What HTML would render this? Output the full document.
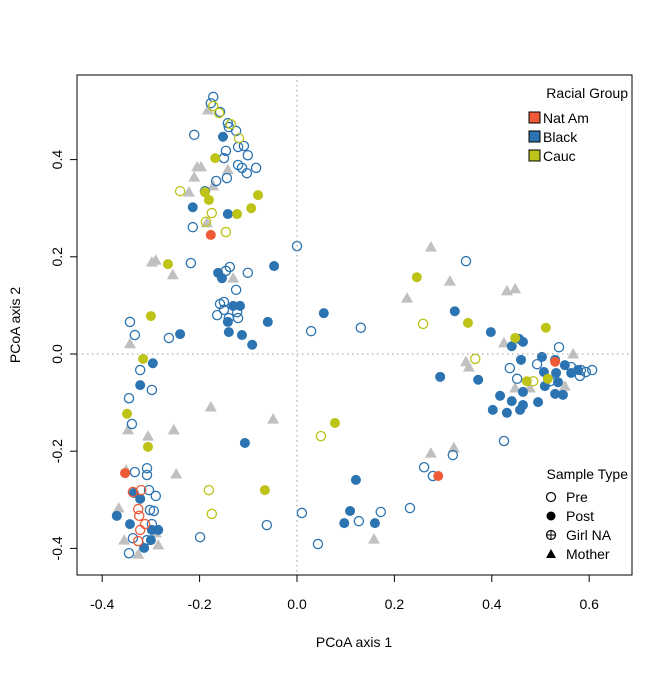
<!DOCTYPE html>
<html><head><meta charset="utf-8"><style>
body{margin:0;background:#fff}
svg text{font-family:"Liberation Sans",sans-serif;font-size:14px;fill:#000}
</style></head><body>
<svg id="chart" width="672" height="672" viewBox="0 0 672 672" xmlns="http://www.w3.org/2000/svg">
<rect x="77" y="75" width="555" height="500" fill="none" stroke="#000" stroke-width="1"/>
<g id="marks"></g>
<g id="axes"></g>
<text x="354" y="647" text-anchor="middle">PCoA axis 1</text>
<text x="20" y="325" text-anchor="middle" transform="rotate(-90 20 325)">PCoA axis 2</text>
<g>
<text x="628" y="98" text-anchor="end">Racial Group</text>
<rect x="529" y="112" width="11" height="11" fill="#ee5a36" stroke="#000"/>
<text x="543" y="123">Nat Am</text>
<rect x="529" y="131" width="11" height="11" fill="#2b73b1" stroke="#000"/>
<text x="543" y="142">Black</text>
<rect x="529" y="150" width="11" height="11" fill="#bdc317" stroke="#000"/>
<text x="543" y="161">Cauc</text>
</g>
<g>
<text x="628" y="479" text-anchor="end">Sample Type</text>
<circle cx="551" cy="497" r="4.5" fill="none" stroke="#000" stroke-width="1.2"/>
<text x="566" y="502">Pre</text>
<circle cx="551" cy="516" r="4.5" fill="#000"/>
<text x="566" y="521">Post</text>
<circle cx="551" cy="535" r="4.5" fill="none" stroke="#000" stroke-width="1.2"/>
<line x1="546" y1="535" x2="556" y2="535" stroke="#000"/><line x1="551" y1="530" x2="551" y2="540" stroke="#000"/>
<text x="566" y="540">Girl NA</text>
<polygon points="551,549 556,558 546,558" fill="#000"/>
<text x="566" y="559">Mother</text>
</g>
</svg>
<script>
const xTicks=[-0.4,-0.2,0.0,0.2,0.4,0.6];
const yTicks=[-0.4,-0.2,0.0,0.2,0.4];
const mother=[[-0.183,0.502],[-0.205,0.385],[-0.197,0.385],[-0.211,0.364],[-0.142,0.379],[-0.172,0.346],[-0.222,0.333],[-0.185,0.270],[-0.298,0.189],[-0.290,0.193],[-0.255,0.163],[-0.131,0.156],[-0.343,0.021],[-0.347,-0.156],[-0.306,-0.169],[-0.253,-0.156],[-0.177,-0.109],[-0.049,-0.134],[-0.351,-0.239],[-0.248,-0.247],[-0.366,-0.317],[-0.290,-0.368],[-0.355,-0.383],[-0.285,-0.393],[-0.326,-0.412],[0.158,-0.381],[0.275,-0.204],[0.322,-0.193],[0.275,0.220],[0.314,0.150],[0.431,0.130],[0.448,0.134],[0.226,0.115],[0.425,0.023],[0.567,0],[0.347,-0.016],[0.353,-0.027],[0.448,-0.070],[0.478,-0.070],[0.550,-0.066]];
const preBlack=[[-0.172,0.529],[-0.177,0.516],[-0.158,0.498],[-0.142,0.475],[-0.140,0.467],[-0.125,0.459],[-0.211,0.451],[-0.109,0.428],[-0.146,0.418],[-0.150,0.403],[-0.121,0.426],[-0.101,0.409],[-0.121,0.389],[-0.113,0.383],[-0.084,0.383],[-0.103,0.372],[-0.166,0.356],[-0.144,0.362],[-0.189,0.335],[-0.214,0.261],[-0.218,0.187],[0,0.222],[-0.146,0.171],[-0.138,0.179],[-0.101,0.167],[-0.125,0.132],[-0.158,0.103],[-0.150,0.107],[-0.150,0.091],[-0.123,0.086],[-0.164,0.080],[-0.140,0.074],[-0.121,0.074],[-0.343,0.066],[-0.333,0.039],[-0.263,0.033],[0.029,0.047],[0.131,0.054],[-0.322,-0.033],[-0.298,-0.074],[-0.345,-0.091],[-0.339,-0.144],[-0.333,-0.243],[-0.308,-0.235],[-0.308,-0.249],[-0.304,-0.280],[-0.290,-0.292],[-0.302,-0.321],[-0.294,-0.323],[-0.298,-0.350],[-0.337,-0.379],[-0.308,-0.383],[-0.199,-0.377],[-0.062,-0.352],[0.010,-0.327],[0.043,-0.391],[-0.345,-0.410],[0.261,-0.233],[0.279,-0.251],[0.172,-0.325],[0.232,-0.317],[0.127,-0.344],[0.320,-0.208],[0.425,-0.179],[0.347,0.191],[0.538,0.014],[0.437,-0.029],[0.493,-0.021],[0.563,-0.027],[0.583,-0.033],[0.606,-0.033],[0.581,-0.045],[0.452,-0.051],[0.593,-0.037],[0.520,-0.056]];
const preCauc=[[-0.172,0.510],[-0.160,0.496],[-0.136,0.473],[-0.119,0.444],[-0.240,0.335],[-0.175,0.290],[-0.187,0.272],[-0.146,0.251],[-0.181,-0.280],[-0.175,-0.329],[0.049,-0.169],[0.259,0.062],[0.366,-0.010],[0.485,-0.056]];
const preNatAm=[[-0.337,-0.284],[-0.320,-0.280],[-0.326,-0.319],[-0.324,-0.333],[-0.312,-0.350],[-0.322,-0.362],[-0.326,-0.385]];
const postBlack=[[-0.152,0.447],[-0.214,0.302],[-0.142,0.288],[-0.047,0.181],[-0.162,0.167],[-0.154,0.156],[-0.131,0.099],[-0.117,0.099],[-0.142,0.066],[-0.140,0.045],[-0.113,0.039],[-0.092,0.019],[-0.060,0.066],[-0.240,0.041],[0.055,0.084],[-0.296,-0.019],[-0.322,-0.064],[-0.107,-0.183],[-0.335,-0.286],[-0.322,-0.298],[-0.370,-0.333],[-0.343,-0.350],[-0.298,-0.362],[-0.285,-0.362],[-0.300,-0.383],[-0.314,-0.399],[0.121,-0.259],[0.097,-0.348],[0.109,-0.323],[0.160,-0.348],[0.324,0.088],[0.398,0.045],[0.456,0.031],[0.464,0.025],[0.441,0.016],[0.460,-0.012],[0.503,-0.006],[0.530,-0.012],[0.550,-0.023],[0.577,-0.033],[0.294,-0.047],[0.507,-0.037],[0.532,-0.039],[0.563,-0.039],[0.509,-0.066],[0.536,-0.058],[0.530,-0.082],[0.417,-0.086],[0.464,-0.078],[0.441,-0.097],[0.464,-0.105],[0.402,-0.115],[0.431,-0.121],[0.458,-0.115],[0.495,-0.099],[0.546,-0.084],[0.372,-0.053]];
const postCauc=[[-0.168,0.403],[-0.189,0.333],[-0.181,0.317],[-0.080,0.327],[-0.094,0.300],[-0.123,0.288],[-0.265,0.185],[-0.300,0.078],[-0.316,-0.010],[-0.349,-0.123],[-0.306,-0.191],[-0.066,-0.280],[0.078,-0.142],[0.246,0.158],[0.351,0.064],[0.511,0.054],[0.448,0.033],[0.515,-0.051],[0.472,-0.056]];
const postNatAm=[[-0.177,0.245],[-0.353,-0.245],[0.290,-0.251],[0.530,-0.016]];

const sx=v=>297+v*487, sy=v=>354-v*486;
const NS='http://www.w3.org/2000/svg';
const marks=document.getElementById('marks'), axes=document.getElementById('axes');
function mk(tag,attrs,parent){const e=document.createElementNS(NS,tag);for(const k in attrs)e.setAttribute(k,attrs[k]);parent.appendChild(e);return e;}
// reference lines
let l=mk('line',{x1:sx(0),x2:sx(0),y1:75,y2:575,stroke:'#999','stroke-dasharray':'1.5,3.5'},axes);


l=mk('line',{x1:77,x2:632,y1:sy(0),y2:sy(0),stroke:'#999','stroke-dasharray':'1.5,3.5'},axes);


mk('line',{x1:sx(xTicks[0]),x2:sx(xTicks[xTicks.length-1]),y1:575,y2:575,stroke:'#000'},axes);
xTicks.forEach(t=>{mk('line',{x1:sx(t),x2:sx(t),y1:575,y2:582,stroke:'#000'},axes);
 const tx=mk('text',{x:sx(t),y:609,'text-anchor':'middle'},axes);tx.textContent=t.toFixed(1);
 
 });
yTicks.forEach(t=>{mk('line',{x1:77,x2:70,y1:sy(t),y2:sy(t),stroke:'#000'},axes);
 const tx=mk('text',{x:62,y:sy(t),'text-anchor':'middle',transform:`rotate(-90 62 ${sy(t)})`},axes);tx.textContent=t.toFixed(1);
 
 });
function tri(arr,name){arr.forEach(p=>{const x=sx(p[0]),y=sy(p[1]);
 const e=mk('polygon',{points:`${x},${y-6} ${x+6},${y+4.5} ${x-6},${y+4.5}`,fill:'#c0c0c0'},marks);
 
 });}
function circ(arr,color,filled,name){arr.forEach(p=>{
 const e=mk('circle',{cx:sx(p[0]),cy:sy(p[1]),r:filled?5:4.6,fill:filled?color:'none',stroke:color,'stroke-width':filled?0:1.3},marks);
 
 });}
tri(mother,'mother-point');
circ(preBlack,'#2b73b1',false,'pre-black-point');
circ(postBlack,'#2b73b1',true,'post-black-point');
circ(preCauc,'#bdc317',false,'pre-cauc-point');
circ(postCauc,'#bdc317',true,'post-cauc-point');
circ(preNatAm,'#ee5a36',false,'pre-natam-point');
circ(postNatAm,'#ee5a36',true,'post-natam-point');
</script>
</body></html>
